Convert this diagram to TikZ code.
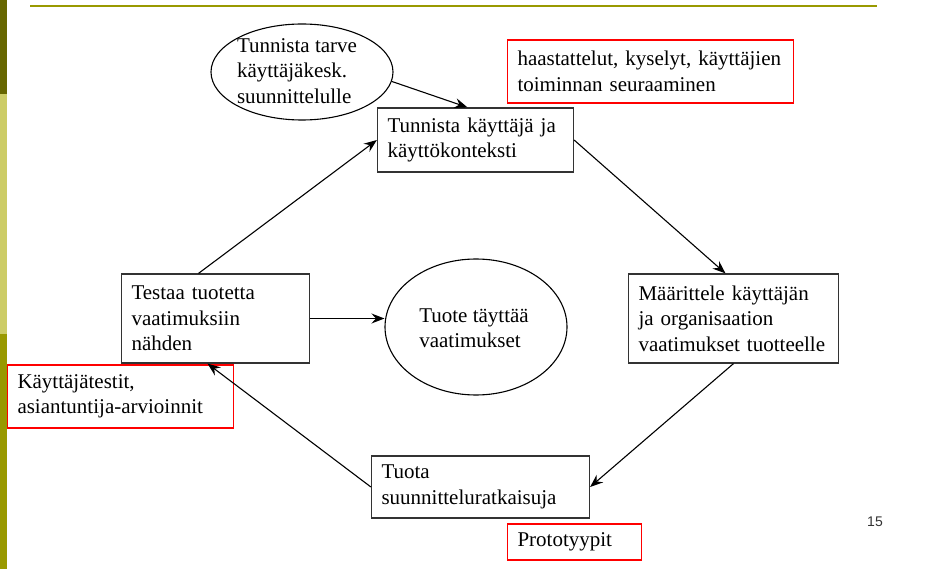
\documentclass[tikz,border=0pt]{standalone}
\usepackage{fontspec}
\setmainfont{Liberation Serif}
\newfontfamily\numfont{Liberation Sans}
\usetikzlibrary{arrows.meta,shapes.geometric}
\definecolor{olivedark}{HTML}{666600}
\definecolor{olivelight}{HTML}{CCCC66}
\definecolor{olivemid}{HTML}{999900}
\definecolor{boxline}{HTML}{333333}
\begin{document}
\begin{tikzpicture}[x=1pt,y=-1pt,
  every node/.style={font=\fontsize{21}{25.5}\selectfont},
  blkbox/.style={draw=boxline,line width=1.2pt,rectangle,inner xsep=10pt,inner ysep=0pt,align=left,anchor=center},
  redbox/.style={draw=red,line width=1.2pt,rectangle,inner xsep=10pt,inner ysep=0pt,align=left,anchor=center},
  ell/.style={draw=black,line width=1.1pt,ellipse,inner sep=0pt},
  txt/.style={inner sep=0pt,align=left},
  arr/.style={draw=black,line width=1.1pt,-{Stealth[length=13pt,width=10pt,inset=4.5pt]}}
]
\useasboundingbox (0,0) rectangle (929,569);
\fill[white] (0,0) rectangle (929,569);
% slide decoration
\fill[olivedark] (0,0) rectangle (6.5,94);
\fill[olivelight] (0,94) rectangle (6.5,334);
\fill[olivemid] (0,334) rectangle (6.5,569);
\draw[olivemid,line width=2pt] (30,5.8) -- (877,5.8);

% ellipses
\node[ell,minimum width=182pt,minimum height=96pt] (e1) at (302,72) {};
\node[txt] (e1t) at (297,71) {Tunnista tarve\\käyttäjäkesk.\\suunnittelulle};
\node[ell,minimum width=182pt,minimum height=136pt] (e2) at (476,327) {};
\node[txt] (e2t) at (474,328) {Tuote täyttää\\vaatimukset};

% process boxes
\node[blkbox,text width=176pt,minimum height=64pt] (b1) at (475.5,140) {Tunnista käyttäjä ja\\käyttökonteksti};
\node[blkbox,text width=190pt,minimum height=89pt] (b2) at (733.5,318.5) {Määrittele käyttäjän\\ja organisaation\\vaatimukset tuotteelle};
\node[blkbox,text width=198pt,minimum height=62pt] (b3) at (480.5,487) {Tuota\\suunnitteluratkaisuja};
\node[blkbox,text width=168pt,minimum height=89pt] (b4) at (215.5,318.5) {Testaa tuotetta\\vaatimuksiin\\nähden};

% red annotation boxes
\node[redbox,text width=266pt,minimum height=63pt] (r1) at (650.5,71.5) {haastattelut, kyselyt, käyttäjien\\toiminnan seuraaminen};
\node[redbox,text width=206pt,minimum height=63pt] (r2) at (120.5,396.5) {Käyttäjätestit,\\asiantuntija-arvioinnit};
\node[redbox,text width=114pt,minimum height=36pt] (r3) at (574.5,542) {Prototyypit};

% slide number
\node[inner sep=0pt,text=black!80,font=\numfont\fontsize{14}{16}\selectfont] (num) at (875,522) {15};

% connectors
\draw[arr] (e1.-6) -- ([xshift=-8pt]b1.north);
\draw[arr] ([xshift=-17pt]b4.north) -- (b1.west);
\draw[arr] (b1.east) -- ([xshift=-8pt]b2.north);
\draw[arr] (b2.south) -- (b3.east);
\draw[arr] (b3.west) -- ([xshift=-8pt]b4.south);
\draw[arr] (b4.east) -- (b4.east -| e2.west);
\end{tikzpicture}
\end{document}
